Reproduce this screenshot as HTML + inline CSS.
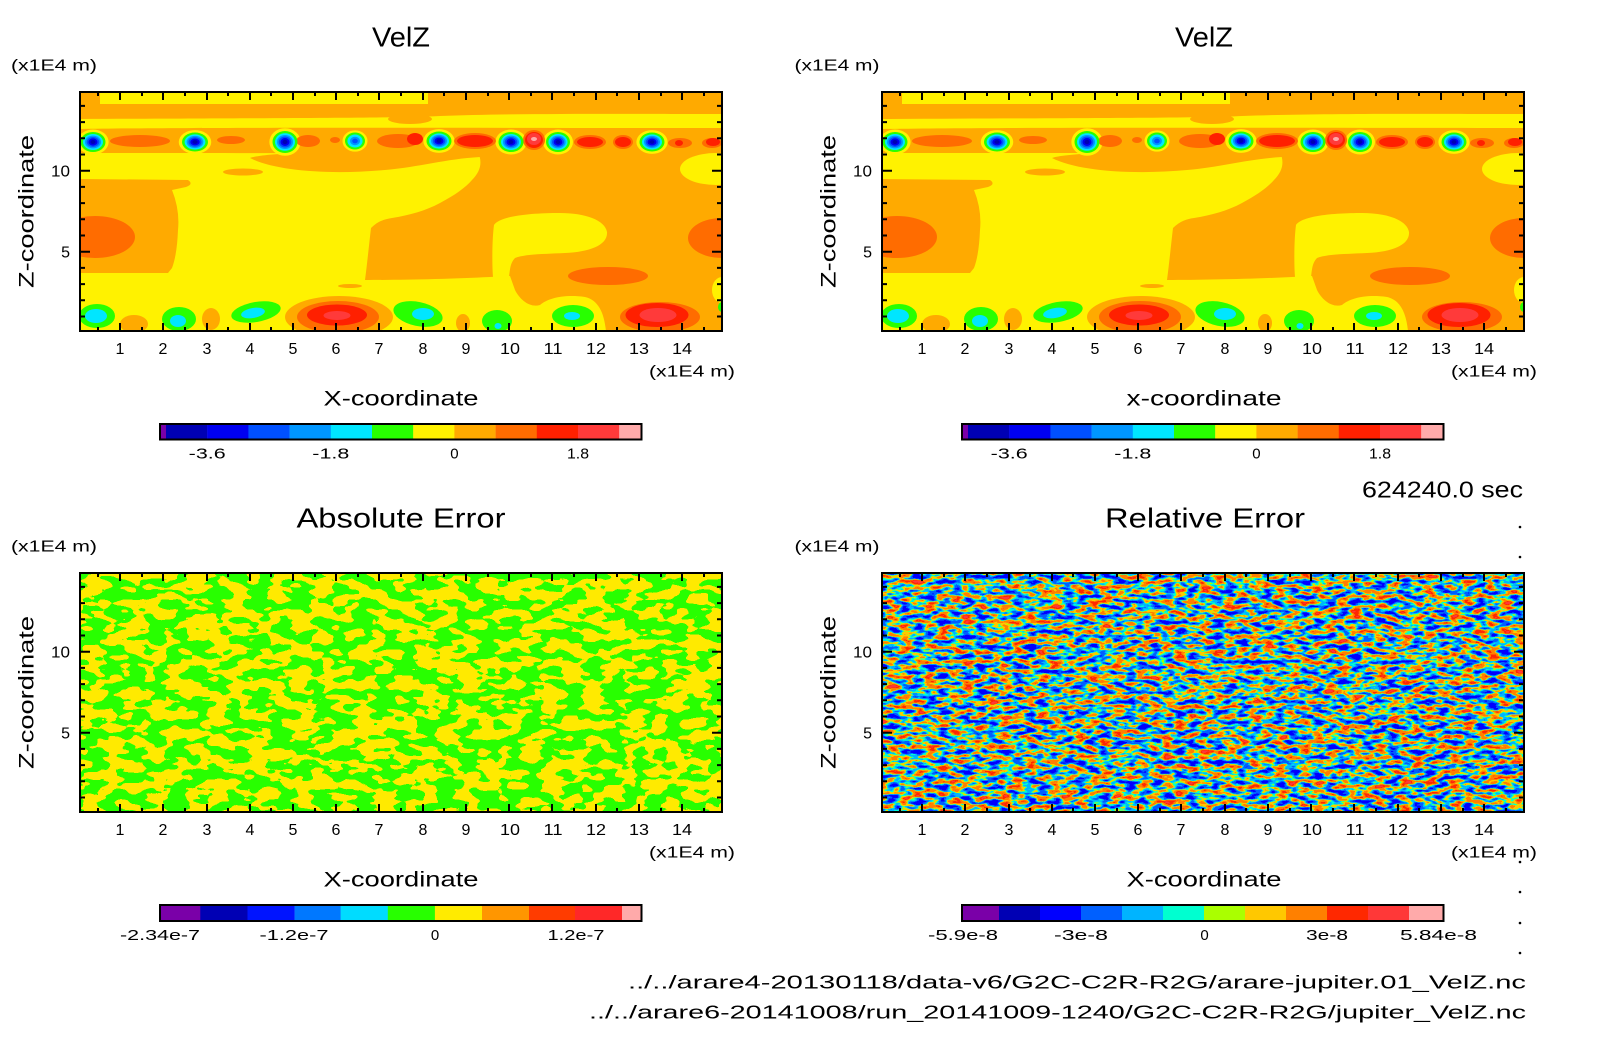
<!DOCTYPE html>
<html>
<head>
<meta charset="utf-8">
<style>
html,body{margin:0;padding:0;background:#fff;}
svg{display:block;}
text{font-family:"Liberation Sans",sans-serif;fill:#000;}
</style>
</head>
<body>
<svg xmlns="http://www.w3.org/2000/svg" width="1604" height="1054" viewBox="0 0 1604 1054">
<defs>
  <clipPath id="clipTL"><rect x="80" y="92" width="642" height="239"/></clipPath>
  <g id="halo"><circle r="1.25" fill="#fff200"/></g>
  <g id="vs"><circle r="1" fill="#28ff00"/><circle r="0.8" fill="#00e6ff"/><circle r="0.64" fill="#0096ff"/><circle r="0.5" fill="#0050ff"/><circle r="0.36" fill="#0000f0"/><circle r="0.2" fill="#0000b4"/></g>
  <g id="vw"><circle r="1" fill="#28ff00"/><circle r="0.76" fill="#00e6ff"/><circle r="0.5" fill="#0096ff"/><circle r="0.28" fill="#0050ff"/></g>

  <g id="velz" clip-path="url(#clipTL)">
    <rect x="80" y="92" width="642" height="239" fill="#fff200"/>
    <path fill="#ffaa00" d="M80,92 H100 V104 H428 V92 H722 V114 C650,114 520,113 440,116 C400,118 300,118 80,119 Z"/>
    <ellipse cx="410" cy="119" rx="22" ry="5" fill="#ffaa00"/>
    <path fill="#ffaa00" d="M80,129 C200,127 500,128 722,128 V153 C600,154 400,153 80,153 Z"/>
    <path fill="#ffaa00" d="M250,158 C270,150 430,150 482,152 L480,157 C445,159 420,167 385,170 C330,175 275,171 250,158 Z"/>
    <ellipse cx="243" cy="172" rx="20" ry="3.5" fill="#ffaa00"/>
    <path fill="#ffaa00" d="M80,179 L188,180 Q194,184 186,187 L172,190 Q180,210 178,230 Q177,255 172,268 L168,273 L80,273 Z"/>
    <ellipse cx="95" cy="237" rx="40" ry="21" fill="#ff6c00"/>
    <path fill="#ffaa00" d="M478,152 L722,152 L722,331 L606,331 C604,312 598,300 585,297 C565,294 548,298 540,305 C530,308 520,300 515,290 L510,276 L490,277 C450,279 400,280 365,280 C367,265 369,245 371,228 C378,221 385,219 392,218 C410,215 425,211 440,203 C455,195 465,188 472,180 C480,172 483,163 478,152 Z"/>
    <path fill="#fff200" d="M494,225 C500,216 530,213 560,213 C585,213 605,220 607,232 C608,245 590,252 565,253 C545,254 525,254 515,258 C510,263 510,270 509,277 L493,277 C492,265 492,240 494,225 Z"/>
    <ellipse cx="716" cy="169" rx="36" ry="16" fill="#fff200"/>
    <ellipse cx="722" cy="290" rx="10" ry="13" fill="#fff200"/>
    <ellipse cx="608" cy="276" rx="40" ry="9" fill="#ff6c00"/>
    <ellipse cx="722" cy="238" rx="34" ry="20" fill="#ff6c00"/>
    <ellipse cx="134" cy="324" rx="14" ry="9" fill="#ffaa00"/>
    <ellipse cx="211" cy="319" rx="9" ry="11" fill="#ffaa00"/>
    <ellipse cx="463" cy="323" rx="7" ry="9" fill="#ffaa00"/>
    <ellipse cx="350" cy="286" rx="12" ry="2" fill="#ffaa00"/>
    <ellipse cx="339" cy="317" rx="54" ry="21" fill="#ffaa00"/>
    <ellipse cx="338" cy="317" rx="41" ry="16" fill="#ff6c00"/>
    <ellipse cx="337" cy="315" rx="30" ry="10.5" fill="#ff2000"/>
    <ellipse cx="337" cy="315.5" rx="13.5" ry="4.5" fill="#ff3a3a"/>
    <ellipse cx="661" cy="317" rx="49" ry="19" fill="#ffaa00"/>
    <ellipse cx="660" cy="317" rx="40" ry="15" fill="#ff6c00"/>
    <ellipse cx="657" cy="315" rx="31.5" ry="12" fill="#ff2000"/>
    <ellipse cx="658" cy="315" rx="18.5" ry="7" fill="#ff3a3a"/>
    <ellipse cx="573" cy="316" rx="28" ry="16" fill="#fff200"/>
    <ellipse cx="97" cy="316" rx="18" ry="12" fill="#28ff00"/>
    <ellipse cx="96" cy="316" rx="11" ry="7" fill="#00e6ff"/>
    <ellipse cx="179" cy="319" rx="17" ry="12" fill="#28ff00"/>
    <ellipse cx="178" cy="321" rx="8" ry="6" fill="#00e6ff"/>
    <ellipse cx="256" cy="312" rx="25" ry="10" fill="#28ff00" transform="rotate(-10 256 312)"/>
    <ellipse cx="253" cy="313" rx="12" ry="5" fill="#00e6ff" transform="rotate(-10 253 313)"/>
    <ellipse cx="418" cy="314" rx="25" ry="12" fill="#28ff00" transform="rotate(12 418 314)"/>
    <ellipse cx="423" cy="314" rx="11" ry="6" fill="#00e6ff"/>
    <ellipse cx="497" cy="321" rx="15" ry="11" fill="#28ff00"/>
    <ellipse cx="498" cy="326" rx="3.5" ry="3" fill="#00e6ff"/>
    <ellipse cx="573" cy="316" rx="21" ry="11" fill="#28ff00"/>
    <ellipse cx="572" cy="316" rx="8" ry="4" fill="#00e6ff"/>
    <ellipse cx="722" cy="307" rx="4" ry="5" fill="#28ff00"/>
    <use href="#halo" transform="translate(93,142) scale(12.5,10)"/>
    <use href="#halo" transform="translate(195,142) scale(13,9.5)"/>
    <use href="#halo" transform="translate(285,142) scale(12.5,11)"/>
    <use href="#halo" transform="translate(355,141) scale(10,8.5)"/>
    <use href="#halo" transform="translate(439,141) scale(12.5,9.5)"/>
    <use href="#halo" transform="translate(511,142) scale(12.5,10)"/>
    <use href="#halo" transform="translate(558,142) scale(12,10)"/>
    <use href="#halo" transform="translate(652,142) scale(12.5,9.5)"/>
    <ellipse cx="140" cy="141" rx="30" ry="6" fill="#ff6c00"/>
    <ellipse cx="231" cy="140" rx="14" ry="4" fill="#ff6c00"/>
    <ellipse cx="308" cy="141" rx="12" ry="6" fill="#ff6c00"/>
    <ellipse cx="335" cy="140" rx="5" ry="3" fill="#ff6c00"/>
    <ellipse cx="398" cy="141" rx="21" ry="7" fill="#ff6c00"/>
    <ellipse cx="475" cy="141" rx="21" ry="8" fill="#ff6c00"/>
    <ellipse cx="534" cy="140" rx="11" ry="10" fill="#ff6c00"/>
    <ellipse cx="590" cy="142" rx="16" ry="7" fill="#ff6c00"/>
    <ellipse cx="623" cy="142" rx="10" ry="7" fill="#ff6c00"/>
    <ellipse cx="680" cy="143" rx="12" ry="5" fill="#ff6c00"/>
    <ellipse cx="712" cy="143" rx="10" ry="5" fill="#ff6c00"/>
    <ellipse cx="415" cy="139" rx="8" ry="6" fill="#ff2000"/>
    <ellipse cx="475" cy="141" rx="18" ry="6" fill="#ff2000"/>
    <ellipse cx="534" cy="140" rx="9" ry="8" fill="#ff2000"/>
    <ellipse cx="534" cy="139" rx="7" ry="6" fill="#ff3a3a"/>
    <ellipse cx="534" cy="139" rx="3" ry="2" fill="#ffaaaa"/>
    <ellipse cx="590" cy="142" rx="13" ry="5" fill="#ff2000"/>
    <ellipse cx="623" cy="142" rx="8" ry="5" fill="#ff2000"/>
    <ellipse cx="679" cy="143" rx="4" ry="3" fill="#ff2000"/>
    <ellipse cx="713" cy="142" rx="7" ry="4" fill="#ff2000"/>
    <use href="#vs" transform="translate(93,142) scale(12.5,10)"/>
    <use href="#vs" transform="translate(195,142) scale(13,9.5)"/>
    <use href="#vs" transform="translate(285,142) scale(12.5,11)"/>
    <use href="#vw" transform="translate(355,141) scale(10,8.5)"/>
    <use href="#vs" transform="translate(439,141) scale(12.5,9.5)"/>
    <use href="#vs" transform="translate(511,142) scale(12.5,10)"/>
    <use href="#vs" transform="translate(558,142) scale(12,10)"/>
    <use href="#vs" transform="translate(652,142) scale(12.5,9.5)"/>
  </g>

  <g id="axes" fill="none" stroke="#000" stroke-width="2">
    <rect x="80" y="92" width="642" height="239"/>
    <path d="M120,331V323M163,331V323M207,331V323M250,331V323M293,331V323M336,331V323M379,331V323M423,331V323M466,331V323M509,331V323M552,331V323M596,331V323M639,331V323M682,331V323
M98,331V327M142,331V327M185,331V327M228,331V327M271,331V327M315,331V327M358,331V327M401,331V327M444,331V327M488,331V327M531,331V327M574,331V327M617,331V327M661,331V327M704,331V327
M120,92V100M163,92V100M207,92V100M250,92V100M293,92V100M336,92V100M379,92V100M423,92V100M466,92V100M509,92V100M552,92V100M596,92V100M639,92V100M682,92V100
M98,92V96M142,92V96M185,92V96M228,92V96M271,92V96M315,92V96M358,92V96M401,92V96M444,92V96M488,92V96M531,92V96M574,92V96M617,92V96M661,92V96M704,92V96
M80,251.7H90M80,170.7H90
M80,316.5H85M80,300.3H85M80,284.1H85M80,267.9H85M80,235.5H85M80,219.3H85M80,203.1H85M80,186.9H85M80,154.5H85M80,138.3H85M80,122.1H85M80,105.9H85
M722,251.7H712M722,170.7H712
M722,316.5H717M722,300.3H717M722,284.1H717M722,267.9H717M722,235.5H717M722,219.3H717M722,203.1H717M722,186.9H717M722,154.5H717M722,138.3H717M722,122.1H717M722,105.9H717"/>
  </g>

  <g id="ticklabels" font-size="16" text-anchor="middle">
    <text x="120" y="354">1</text>
    <text x="163" y="354">2</text>
    <text x="207" y="354">3</text>
    <text x="250" y="354">4</text>
    <text x="293" y="354">5</text>
    <text x="336" y="354">6</text>
    <text x="379" y="354">7</text>
    <text x="423" y="354">8</text>
    <text x="466" y="354">9</text>
    <text x="510" y="354" textLength="20" lengthAdjust="spacingAndGlyphs">10</text>
    <text x="553" y="354" textLength="19" lengthAdjust="spacingAndGlyphs">11</text>
    <text x="596" y="354" textLength="20" lengthAdjust="spacingAndGlyphs">12</text>
    <text x="639" y="354" textLength="20" lengthAdjust="spacingAndGlyphs">13</text>
    <text x="682" y="354" textLength="20" lengthAdjust="spacingAndGlyphs">14</text>
    <text x="70" y="176.5" text-anchor="end" textLength="19" lengthAdjust="spacingAndGlyphs">10</text>
    <text x="70" y="257.5" text-anchor="end">5</text>
    <text x="649" y="376.5" font-size="16" text-anchor="start" textLength="86" lengthAdjust="spacingAndGlyphs">(x1E4 m)</text>
  </g>

  <g id="cbTop">
    <rect x="160" y="424" width="6" height="15.5" fill="#7a00a8"/>
    <rect x="166" y="424" width="41.4" height="15.5" fill="#0000b4"/>
    <rect x="207.2" y="424" width="41.4" height="15.5" fill="#0000f0"/>
    <rect x="248.4" y="424" width="41.4" height="15.5" fill="#0050ff"/>
    <rect x="289.6" y="424" width="41.4" height="15.5" fill="#0096ff"/>
    <rect x="330.8" y="424" width="41.4" height="15.5" fill="#00e6ff"/>
    <rect x="372" y="424" width="41.4" height="15.5" fill="#28ff00"/>
    <rect x="413.2" y="424" width="41.4" height="15.5" fill="#fff200"/>
    <rect x="454.4" y="424" width="41.4" height="15.5" fill="#ffaa00"/>
    <rect x="495.6" y="424" width="41.4" height="15.5" fill="#ff6c00"/>
    <rect x="536.8" y="424" width="41.4" height="15.5" fill="#ff2000"/>
    <rect x="578" y="424" width="41.4" height="15.5" fill="#ff3a3a"/>
    <rect x="619.2" y="424" width="22" height="15.5" fill="#ffaaaa"/>
    <rect x="160" y="424" width="481.5" height="15.5" fill="none" stroke="#000" stroke-width="2"/>
    <g font-size="15" text-anchor="middle">
      <text x="207.2" y="458.5" textLength="37" lengthAdjust="spacingAndGlyphs">-3.6</text>
      <text x="330.8" y="458.5" textLength="37" lengthAdjust="spacingAndGlyphs">-1.8</text>
      <text x="454.4" y="458.5">0</text>
      <text x="578" y="458.5" textLength="22" lengthAdjust="spacingAndGlyphs">1.8</text>
    </g>
  </g>

  <filter id="nBL" x="80" y="573" width="642" height="239" filterUnits="userSpaceOnUse" color-interpolation-filters="sRGB">
    <feTurbulence type="fractalNoise" baseFrequency="0.048 0.1" numOctaves="2" seed="3"/>
    <feColorMatrix type="matrix" values="1 0 0 0 0  1 0 0 0 0  1 0 0 0 0  0 0 0 0 1"/>
    <feComponentTransfer>
      <feFuncR type="discrete" tableValues="0.16 1"/>
      <feFuncG type="discrete" tableValues="1 0.92"/>
      <feFuncB type="discrete" tableValues="0 0"/>
    </feComponentTransfer>
  </filter>
  <filter id="nBR" x="882" y="573" width="642" height="239" filterUnits="userSpaceOnUse" color-interpolation-filters="sRGB">
    <feTurbulence type="fractalNoise" baseFrequency="0.08 0.2" numOctaves="2" seed="7"/>
    <feColorMatrix type="matrix" values="1.45 0 0 0 -0.225  1.45 0 0 0 -0.225  1.45 0 0 0 -0.225  0 0 0 0 1"/>
    <feComponentTransfer>
      <feFuncR type="discrete" tableValues="0 0 0 0 0 0 0 0 0 0 0 0 0 0 0 0 0 0 0 0 0 0.667 1 1 1 1 1 1 1 1 1 1 1 1 1 1 1 1 1 1"/>
      <feFuncG type="discrete" tableValues="0 0 0 0 0 0 0 0 0 0 0 0.376 0.376 0.376 0.376 0.376 0.706 0.706 0.706 1 1 1 0.784 0.784 0.784 0.5 0.5 0.5 0.5 0.5 0.5 0.157 0.157 0.157 0.157 0.157 0.22 0.22 0.22 0.22"/>
      <feFuncB type="discrete" tableValues="1 1 1 1 1 1 1 1 1 1 1 1 1 1 1 1 1 1 1 0.816 0.816 0 0 0 0 0 0 0 0 0 0 0 0 0 0 0 0.22 0.22 0.22 0.22"/>
    </feComponentTransfer>
  </filter>
</defs>

<use href="#velz"/>
<use href="#axes"/>
<use href="#ticklabels"/>
<use href="#cbTop"/>
<text x="401" y="46.4" font-size="28" text-anchor="middle" textLength="58" lengthAdjust="spacingAndGlyphs">VelZ</text>
<text x="11" y="70.5" font-size="16" textLength="86" lengthAdjust="spacingAndGlyphs">(x1E4 m)</text>
<text x="401" y="405.3" font-size="21" text-anchor="middle" textLength="155" lengthAdjust="spacingAndGlyphs">X-coordinate</text>
<text transform="translate(33.3,211.5) rotate(-90)" font-size="21" text-anchor="middle" textLength="153" lengthAdjust="spacingAndGlyphs">Z-coordinate</text>

<use href="#velz" transform="translate(802,0)"/>
<use href="#axes" transform="translate(802,0)"/>
<use href="#ticklabels" transform="translate(802,0)"/>
<use href="#cbTop" transform="translate(802,0)"/>
<text x="1204" y="46.4" font-size="28" text-anchor="middle" textLength="58" lengthAdjust="spacingAndGlyphs">VelZ</text>
<text x="794.5" y="70.5" font-size="16" textLength="85" lengthAdjust="spacingAndGlyphs">(x1E4 m)</text>
<text x="1204" y="405.3" font-size="21" text-anchor="middle" textLength="155" lengthAdjust="spacingAndGlyphs">x-coordinate</text>
<text transform="translate(835.3,211.5) rotate(-90)" font-size="21" text-anchor="middle" textLength="153" lengthAdjust="spacingAndGlyphs">Z-coordinate</text>

<text x="1362" y="497.6" font-size="23" textLength="161" lengthAdjust="spacingAndGlyphs">624240.0 sec</text>

<rect x="80" y="573" width="642" height="239" filter="url(#nBL)"/>
<use href="#axes" transform="translate(0,481)"/>
<use href="#ticklabels" transform="translate(0,481)"/>
<text x="401" y="527.4" font-size="28" text-anchor="middle" textLength="209" lengthAdjust="spacingAndGlyphs">Absolute Error</text>
<text x="11" y="551.5" font-size="16" textLength="86" lengthAdjust="spacingAndGlyphs">(x1E4 m)</text>
<text x="401" y="886.3" font-size="21" text-anchor="middle" textLength="155" lengthAdjust="spacingAndGlyphs">X-coordinate</text>
<text transform="translate(33.3,692.5) rotate(-90)" font-size="21" text-anchor="middle" textLength="153" lengthAdjust="spacingAndGlyphs">Z-coordinate</text>
<g>
  <rect x="160.5" y="905" width="40" height="16" fill="#7a00a8"/>
  <rect x="200.3" y="905" width="47.4" height="16" fill="#0000b4"/>
  <rect x="247.5" y="905" width="47.3" height="16" fill="#0014ff"/>
  <rect x="294.6" y="905" width="46.3" height="16" fill="#0078ff"/>
  <rect x="340.7" y="905" width="47.3" height="16" fill="#00dcff"/>
  <rect x="387.8" y="905" width="47.3" height="16" fill="#28ff00"/>
  <rect x="434.9" y="905" width="47.3" height="16" fill="#ffeb00"/>
  <rect x="482" y="905" width="47.2" height="16" fill="#ff9600"/>
  <rect x="529" y="905" width="46.2" height="16" fill="#ff3c00"/>
  <rect x="575" y="905" width="47.2" height="16" fill="#ff2828"/>
  <rect x="622" y="905" width="20" height="16" fill="#ffaaaa"/>
  <rect x="160" y="905" width="481.5" height="16" fill="none" stroke="#000" stroke-width="2"/>
  <g font-size="15" text-anchor="middle">
    <text x="160" y="940" textLength="80" lengthAdjust="spacingAndGlyphs">-2.34e-7</text>
    <text x="294" y="940" textLength="69" lengthAdjust="spacingAndGlyphs">-1.2e-7</text>
    <text x="435" y="940">0</text>
    <text x="576" y="940" textLength="57" lengthAdjust="spacingAndGlyphs">1.2e-7</text>
  </g>
</g>

<rect x="882" y="573" width="642" height="239" filter="url(#nBR)"/>
<use href="#axes" transform="translate(802,481)"/>
<use href="#ticklabels" transform="translate(802,481)"/>
<text x="1205" y="527.4" font-size="28" text-anchor="middle" textLength="200" lengthAdjust="spacingAndGlyphs">Relative Error</text>
<text x="794.5" y="551.5" font-size="16" textLength="85" lengthAdjust="spacingAndGlyphs">(x1E4 m)</text>
<text x="1204" y="886.3" font-size="21" text-anchor="middle" textLength="155" lengthAdjust="spacingAndGlyphs">X-coordinate</text>
<text transform="translate(835.3,692.5) rotate(-90)" font-size="21" text-anchor="middle" textLength="153" lengthAdjust="spacingAndGlyphs">Z-coordinate</text>
<g>
  <rect x="962" y="905" width="37.5" height="16" fill="#7a00a8"/>
  <rect x="999" y="905" width="41.5" height="16" fill="#0000b4"/>
  <rect x="1040" y="905" width="41.5" height="16" fill="#0000ff"/>
  <rect x="1081" y="905" width="41.5" height="16" fill="#0060ff"/>
  <rect x="1122" y="905" width="41.5" height="16" fill="#00b4ff"/>
  <rect x="1163" y="905" width="41.5" height="16" fill="#00ffd0"/>
  <rect x="1204" y="905" width="41.5" height="16" fill="#aaff00"/>
  <rect x="1245" y="905" width="41.5" height="16" fill="#ffc800"/>
  <rect x="1286" y="905" width="41.5" height="16" fill="#ff8000"/>
  <rect x="1327" y="905" width="41.5" height="16" fill="#ff2800"/>
  <rect x="1368" y="905" width="41.5" height="16" fill="#ff3838"/>
  <rect x="1409" y="905" width="35" height="16" fill="#ffaaaa"/>
  <rect x="962" y="905" width="481.5" height="16" fill="none" stroke="#000" stroke-width="2"/>
  <g font-size="15" text-anchor="middle">
    <text x="963" y="940" textLength="70" lengthAdjust="spacingAndGlyphs">-5.9e-8</text>
    <text x="1081" y="940" textLength="54" lengthAdjust="spacingAndGlyphs">-3e-8</text>
    <text x="1204.5" y="940">0</text>
    <text x="1327" y="940" textLength="42" lengthAdjust="spacingAndGlyphs">3e-8</text>
    <text x="1438.5" y="940" textLength="77" lengthAdjust="spacingAndGlyphs">5.84e-8</text>
  </g>
</g>

<g fill="#000">
  <circle cx="1520" cy="527" r="1.3"/>
  <circle cx="1520" cy="557" r="1.3"/>
  <circle cx="1520" cy="862" r="1.3"/>
  <circle cx="1520" cy="892" r="1.3"/>
  <circle cx="1520" cy="923" r="1.3"/>
  <circle cx="1520" cy="953" r="1.3"/>
</g>

<text x="628" y="988.3" font-size="18.5" textLength="898" lengthAdjust="spacingAndGlyphs">../../arare4-20130118/data-v6/G2C-C2R-R2G/arare-jupiter.01_VelZ.nc</text>
<text x="589" y="1018.3" font-size="18.5" textLength="937" lengthAdjust="spacingAndGlyphs">../../arare6-20141008/run_20141009-1240/G2C-C2R-R2G/jupiter_VelZ.nc</text>
</svg>
</body>
</html>
